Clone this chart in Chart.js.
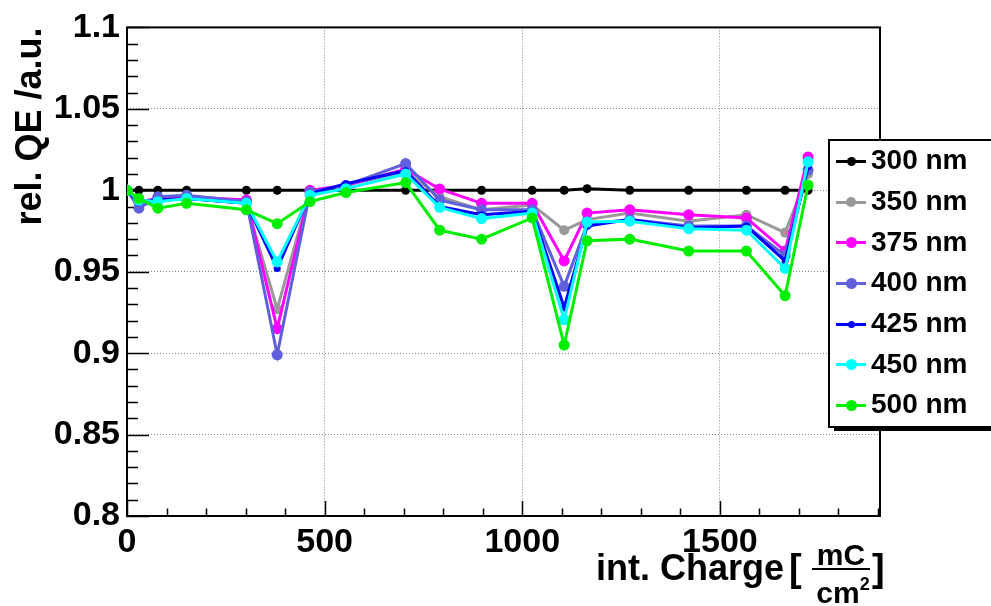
<!DOCTYPE html>
<html>
<head>
<meta charset="utf-8">
<script src="https://cdn.jsdelivr.net/npm/chart.js@4.4.1/dist/chart.umd.min.js"></script>
<style>
  html, body { margin: 0; padding: 0; background: #fff; overflow: hidden; }
  #wrap { position: relative; width: 991px; height: 606px; }
  #legend { position: absolute; left: 828px; top: 139px; width: 180px; height: 285px;
            border: 2px solid #000; background: #fff; box-shadow: 6px 3px 0 #000;
            font: bold 28px "Liberation Sans", Arial, sans-serif; color: #000; }
  .row { position: relative; height: 40.7px; }
  .row .ln { position: absolute; left: 6px; width: 30px; top: 50%; height: 3px; margin-top: -1.5px; }
  .row .dot { position: absolute; border-radius: 50%; }
  .row .tx { position: absolute; left: 41px; top: 50%; transform: translateY(-52%); line-height: 1; white-space: nowrap; }
</style>
</head>
<body>
<div id="wrap">
  <canvas id="qe" width="991" height="606"></canvas>
  <div id="legend"></div>
</div>
<script>
// integrated charge [mC/cm2]
const charge = [0, 30, 78, 151, 302, 380, 463, 554, 705, 791, 897, 1025, 1106, 1164, 1272, 1421, 1567, 1665, 1723];

// relative QE per wavelength
const qe300 = [1, 1, 1, 1, 1, 1, 1, 1, 1, 1, 1, 1, 1, 1.001, 1, 1, 1, 1, 1];
const qe350 = [1, 0.990, 0.994, 0.995, 0.992, 0.927, 1.000, 1.003, 1.0115, 0.996, 0.988, 0.991, 0.9755, 0.982, 0.986, 0.981, 0.985, 0.974, 1.010];
const qe375 = [1, 0.993, 0.995, 0.996, 0.994, 0.915, 1.000, 1.003, 1.013, 1.0008, 0.992, 0.992, 0.9566, 0.986, 0.988, 0.985, 0.983, 0.9627, 1.0205];
const qe400 = [1, 0.989, 0.996, 0.997, 0.993, 0.899, 0.999, 1.003, 1.0164, 0.994, 0.988, 0.988, 0.941, 0.979, 0.982, 0.978, 0.978, 0.960, 1.0124];
const qe425 = [1, 0.993, 0.994, 0.995, 0.992, 0.952, 0.998, 1.004, 1.012, 0.990, 0.985, 0.987, 0.928, 0.978, 0.982, 0.977, 0.978, 0.9566, 1.0144];
const qe450 = [1, 0.994, 0.993, 0.995, 0.992, 0.956, 0.997, 1.001, 1.010, 0.9895, 0.9826, 0.986, 0.9205, 0.9805, 0.981, 0.9763, 0.9755, 0.952, 1.0175];
const qe500 = [1, 0.995, 0.989, 0.992, 0.988, 0.9795, 0.993, 0.9986, 1.0047, 0.9755, 0.970, 0.983, 0.905, 0.969, 0.970, 0.9627, 0.9627, 0.9353, 1.0032];

const labels = ['300 nm', '350 nm', '375 nm', '400 nm', '425 nm', '450 nm', '500 nm'];
const series = [qe300, qe350, qe375, qe400, qe425, qe450, qe500];
const colors = ['#000000', '#999999', '#ff00ff', '#6060dd', '#0000ff', '#00ffff', '#00ee00'];
const radii = [4.5, 5, 5.5, 5.5, 3.5, 5.5, 5.5];

const xTicks = [0, 500, 1000, 1500];
const xTickLabels = ['0', '500', '1000', '1500'];
const yTicks = [0.8, 0.85, 0.9, 0.95, 1, 1.05, 1.1];
const yTickLabels = ['0.8', '0.85', '0.9', '0.95', '1', '1.05', '1.1'];

const FONT = '"Liberation Sans", Arial, sans-serif';

// ROOT-like frame with ticks pointing into the pad
const frame = {
  id: 'frame',
  beforeDatasetsDraw(chart) {
    const {ctx, chartArea: a, scales: {x, y}} = chart;
    ctx.save();
    ctx.strokeStyle = '#000';
    ctx.lineWidth = 1.5;
    ctx.beginPath();
    for (let v = 0; v <= x.max; v += 100) {
      const px = Math.round(x.getPixelForValue(v)) + 0.5;
      const len = v % 500 === 0 ? 15 : 7.5;
      ctx.moveTo(px, a.bottom); ctx.lineTo(px, a.bottom - len);
    }
    for (let k = 0; k <= 30; k++) {
      const py = Math.round(y.getPixelForValue(0.8 + k * 0.01)) + 0.5;
      const len = k % 5 === 0 ? 22 : 11;
      ctx.moveTo(a.left, py); ctx.lineTo(a.left + len, py);
    }
    ctx.stroke();
    ctx.lineWidth = 2;
    ctx.strokeRect(a.left, a.top, a.right - a.left, a.bottom - a.top);
    ctx.restore();
  }
};

// x axis title with the mC/cm2 fraction
const xTitle = {
  id: 'xTitle',
  afterDraw(chart) {
    const ctx = chart.ctx;
    ctx.save();
    ctx.fillStyle = '#000';
    ctx.textBaseline = 'alphabetic';
    ctx.font = 'bold 36px ' + FONT;
    ctx.textAlign = 'right';
    ctx.fillText('int. Charge', 784, 580);
    ctx.font = 'bold 38px ' + FONT;
    ctx.textAlign = 'left';
    ctx.fillText('[', 789, 581);
    ctx.fillText(']', 872, 581);
    ctx.font = 'bold 30px ' + FONT;
    ctx.textAlign = 'center';
    ctx.fillText('mC', 841, 565);
    ctx.fillRect(812, 568, 58, 2);
    ctx.textAlign = 'left';
    const w = ctx.measureText('cm').width;
    ctx.fillText('cm', 838 - w / 2, 603);
    ctx.font = 'bold 18px ' + FONT;
    ctx.fillText('2', 838 + w / 2, 590);
    ctx.restore();
  }
};

new Chart(document.getElementById('qe'), {
  type: 'line',
  data: {
    datasets: series.map((s, i) => ({
      label: labels[i],
      data: charge.map((c, j) => ({x: c, y: s[j]})),
      borderColor: colors[i],
      backgroundColor: colors[i],
      pointBackgroundColor: colors[i],
      pointBorderWidth: 0,
      pointRadius: radii[i],
      borderWidth: 3,
      tension: 0,
      order: series.length - i
    }))
  },
  options: {
    responsive: false,
    animation: false,
    devicePixelRatio: 1,
    layout: {padding: {top: 22, right: 111, left: 0, bottom: 0}},
    plugins: {legend: {display: false}, tooltip: {enabled: false}},
    scales: {
      x: {
        type: 'linear', min: 0, max: 1905,
        afterBuildTicks: s => { s.ticks = xTicks.map(v => ({value: v})); },
        afterFit: s => { s.height = 90; },
        grid: {color: '#888', lineWidth: 1, drawTicks: false},
        border: {display: false, dash: [1, 2]},
        ticks: {
          callback: (v, i) => xTickLabels[i],
          font: {family: FONT, size: 34, weight: 'bold'}, color: '#000',
          padding: 6, maxRotation: 0, autoSkip: false
        }
      },
      y: {
        type: 'linear', min: 0.8, max: 1.1,
        afterBuildTicks: s => { s.ticks = yTicks.map(v => ({value: v})); },
        afterFit: s => { s.width = 127; },
        grid: {color: '#888', lineWidth: 1, drawTicks: false},
        border: {display: false, dash: [1, 2]},
        ticks: {
          callback: (v, i) => yTickLabels[i],
          font: {family: FONT, size: 34, weight: 'bold'}, color: '#000',
          padding: 7, autoSkip: false
        },
        title: {
          display: true, text: 'rel. QE /a.u.', align: 'end', color: '#000',
          font: {family: FONT, size: 36, weight: 'bold'},
          padding: {top: 9, bottom: 0}
        }
      }
    }
  },
  plugins: [frame, xTitle]
});

// legend box
const legend = document.getElementById('legend');
labels.forEach((lab, i) => {
  const r = radii[i];
  const row = document.createElement('div');
  row.className = 'row';
  row.innerHTML =
    '<span class="ln" style="background:' + colors[i] + '"></span>' +
    '<span class="dot" style="background:' + colors[i] + ';width:' + (2 * r) + 'px;height:' + (2 * r) +
    'px;left:' + (21 - r) + 'px;top:calc(50% - ' + r + 'px)"></span>' +
    '<span class="tx">' + lab + '</span>';
  legend.appendChild(row);
});
</script>
</body>
</html>
